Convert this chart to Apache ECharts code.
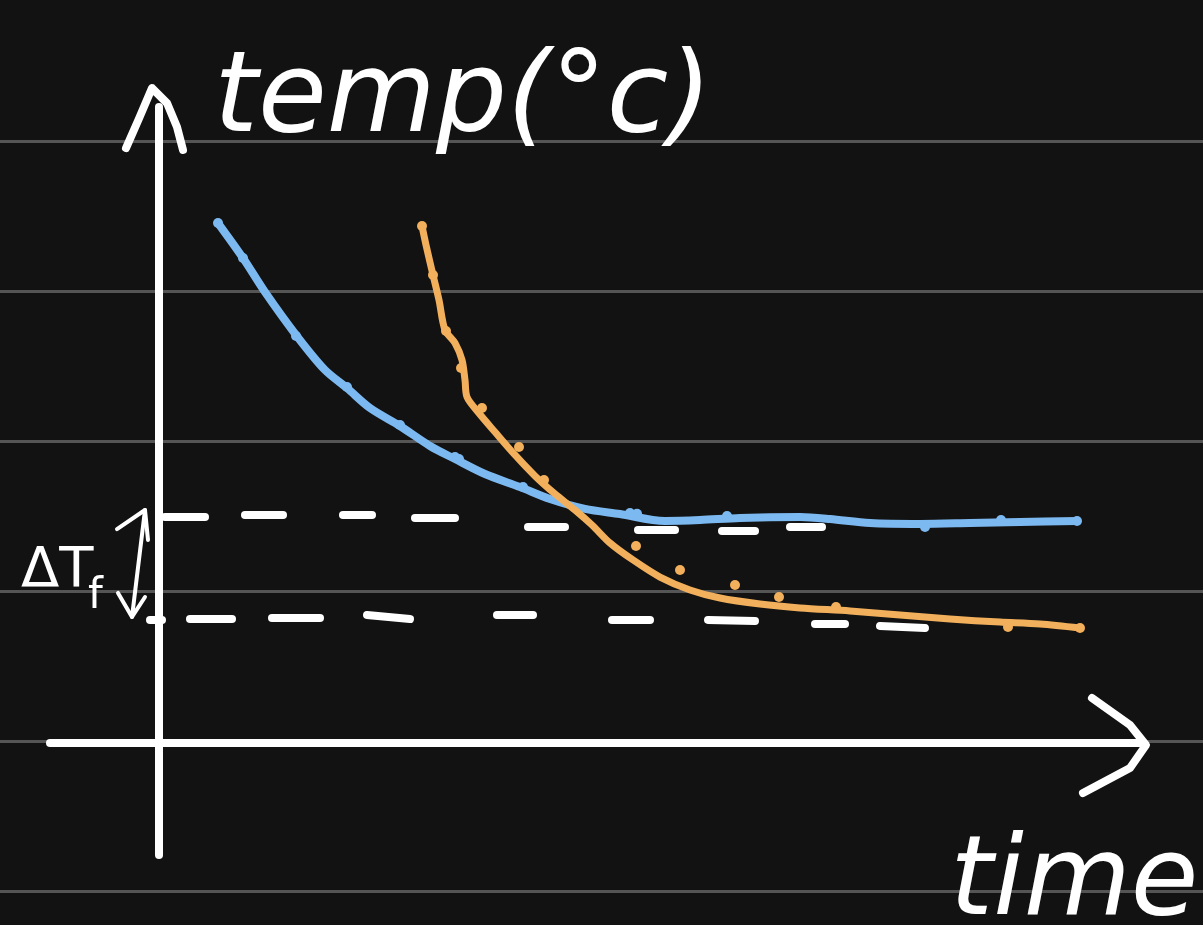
<!DOCTYPE html>
<html><head><meta charset="utf-8">
<script src="https://cdn.jsdelivr.net/npm/echarts@6/dist/echarts.min.js"></script>
<style>html,body{margin:0;padding:0;background:#121212;}#c{width:1203px;height:925px;}</style>
</head><body><div id="c"></div>
<script>
// time (arbitrary units) vs temp (°C, arbitrary)
const blueCurve = [[0.59,34.53],[0.84,32.2],[1.06,29.93],[1.37,27.07],[1.66,24.73],[1.88,23.53],[2.11,22.2],[2.41,21.0],[2.71,19.67],[2.96,18.8],[3.26,17.8],[3.61,16.93],[3.91,16.13],[4.26,15.47],[4.61,15.13],[5.06,14.67],[5.41,14.73],[5.81,14.87],[6.41,14.93],[6.71,14.8],[7.11,14.53],[7.61,14.47],[8.11,14.53],[8.61,14.6],[9.18,14.67]];
const orangeCurve = [[2.63,34.33],[2.67,33.07],[2.74,31.07],[2.80,29.4],[2.86,27.4],[2.96,26.53],[3.03,25.4],[3.06,24.07],[3.08,22.93],[3.19,21.93],[3.36,20.6],[3.56,19.07],[3.76,17.67],[3.96,16.47],[4.16,15.4],[4.33,14.4],[4.51,13.2],[4.74,12.07],[5.01,10.93],[5.31,10.07],[5.61,9.53],[6.01,9.13],[6.41,8.87],[6.91,8.67],[7.41,8.4],[7.91,8.13],[8.41,7.93],[8.81,7.8],[9.21,7.53]];
const blueDots = [[0.59,34.53],[0.84,32.2],[1.37,27.0],[1.88,23.6],[2.41,21.07],[2.96,18.93],[3.0,18.8],[3.64,16.93],[4.71,15.2],[4.78,15.15],[5.68,15.0],[7.66,14.27],[8.42,14.73],[9.18,14.67]];
const orangeDots = [[2.63,34.33],[2.74,31.07],[2.87,27.33],[3.02,24.87],[3.23,22.2],[3.60,19.6],[3.85,17.4],[4.77,13.0],[5.21,11.4],[5.76,10.4],[6.20,9.6],[6.77,8.93],[8.49,7.6],[9.21,7.53]];
const upperDashes = [[[0.06,14.93],[0.46,14.93]],[[0.86,15.07],[1.24,15.07]],[[1.84,15.07],[2.13,15.07]],[[2.56,14.87],[2.96,14.87]],[[3.69,14.27],[4.06,14.27]],[[4.79,14.07],[5.16,14.07]],[[5.63,14.0],[5.96,14.0]],[[6.31,14.27],[6.63,14.27]]];
const lowerDashes = [[[-0.09,8.07],[0.03,8.07]],[[0.31,8.13],[0.73,8.13]],[[1.13,8.2],[1.61,8.2]],[[2.08,8.4],[2.51,8.13]],[[3.38,8.4],[3.74,8.4]],[[4.53,8.07],[4.91,8.07]],[[5.49,8.07],[5.96,8.0]],[[6.56,7.8],[6.86,7.8]],[[7.21,7.67],[7.66,7.53]]];
const yAxisStroke = [[0,-7.6],[0,42.27]];
const yArrowHead = [[-0.33,39.53],[-0.2,41.5],[-0.07,43.53],[0.08,42.53],[0.18,40.93],[0.24,39.4]];
const xAxisStroke = [[-1.09,-0.13],[9.81,-0.13]];
const xArrowHead = [[9.33,2.87],[9.71,1.07],[9.87,-0.27],[9.71,-1.8],[9.24,-3.47]];
const deltaShaft = [[-0.14,15.4],[-0.27,8.27]];
const deltaUpHead = [[-0.42,14.13],[-0.14,15.4],[-0.11,13.4]];
const deltaDownHead = [[-0.41,9.87],[-0.27,8.27],[-0.14,9.6]];
const tempTicks = {min:-10, max:40, step:10};
const timeRange = {min:-1.59, max:10.44};

const chart = echarts.init(document.getElementById('c'));
const blue = '#7db9f1', orange = '#f2b05c', white = '#ffffff';
chart.setOption({
  backgroundColor: '#121212',
  animation: false,
  grid: {left:0, right:0, top:141, bottom:34},
  xAxis: {type:'value', min:timeRange.min, max:timeRange.max, show:false},
  yAxis: {type:'value', min:tempTicks.min, max:tempTicks.max, interval:tempTicks.step,
    axisLabel:{show:false}, axisLine:{show:false}, axisTick:{show:false},
    splitLine:{show:true, showMinLine:true, showMaxLine:true, lineStyle:{color:'#555555', width:3}}},
  series: [
    {type:'lines', coordinateSystem:'cartesian2d', polyline:true, clip:false, z:2,
      lineStyle:{color:white, width:8, cap:'round', join:'round', opacity:1},
      data:[upperDashes, lowerDashes].flat().map(c=>({coords:c}))},
    {type:'lines', coordinateSystem:'cartesian2d', polyline:true, clip:false, z:3,
      lineStyle:{color:white, width:8, cap:'round', join:'round', opacity:1},
      data:[yAxisStroke, yArrowHead, xAxisStroke, xArrowHead].map(c=>({coords:c}))},
    {type:'lines', coordinateSystem:'cartesian2d', polyline:true, clip:false, z:3,
      lineStyle:{color:white, width:4, cap:'round', join:'round', opacity:1},
      data:[deltaShaft, deltaUpHead, deltaDownHead].map(c=>({coords:c}))},
    {type:'line', data:blueCurve, smooth:0.3, symbol:'none', clip:false, z:4,
      lineStyle:{color:blue, width:8, cap:'round', join:'round'}},
    {type:'line', data:orangeCurve, smooth:0.3, symbol:'none', clip:false, z:5,
      lineStyle:{color:orange, width:7, cap:'round', join:'round'}},
    {type:'scatter', data:blueDots, symbolSize:10, clip:false, z:4, itemStyle:{color:blue, opacity:1}},
    {type:'scatter', data:orangeDots, symbolSize:10, clip:false, z:5, itemStyle:{color:orange, opacity:1}}
  ],
  graphic: [
    {type:'text', left:214, top:46, z:10, style:{text:'temp(°c)', fill:white, font:'italic 112px "DejaVu Sans"'}},
    {type:'text', left:950, top:830, z:10, style:{text:'time', fill:white, font:'italic 110px "DejaVu Sans"'}},
    {type:'text', left:21, top:543, z:10, style:{text:'ΔT', fill:white, font:'56px "DejaVu Sans"'}},
    {type:'text', left:88, top:576, z:10, style:{text:'f', fill:white, font:'42px "DejaVu Sans"'}}
  ]
});
</script></body></html>
